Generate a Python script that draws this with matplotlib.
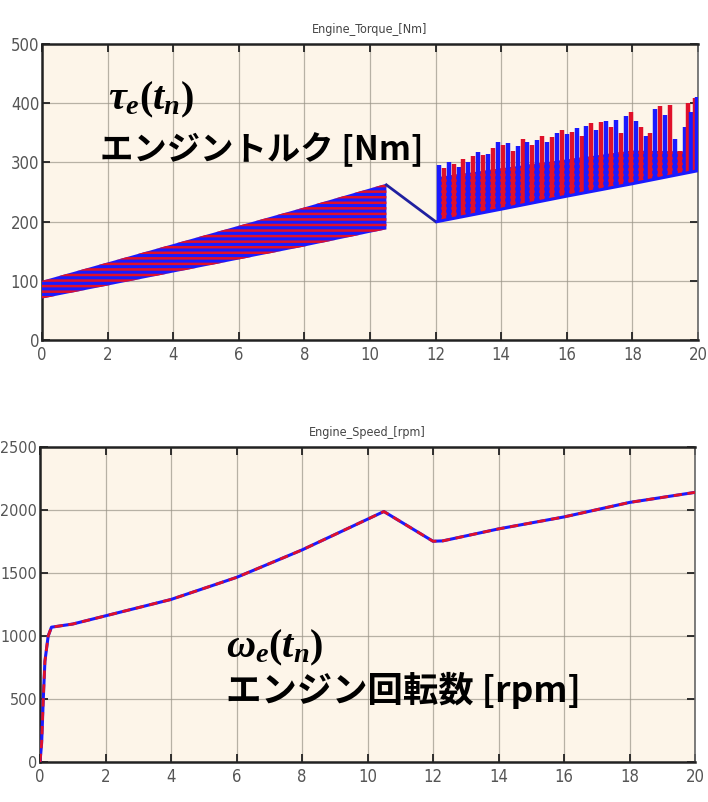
import matplotlib
matplotlib.use("Agg")
import matplotlib.pyplot as plt
import numpy as np

# ---------------- data ----------------
# Engine torque: dense oscillating band 0-10.5 s (envelope)
band_t = [0.0, 2.0, 4.0, 6.0, 8.0, 10.5]
band_low = [70, 92, 114, 136, 158, 187]
band_high = [100, 131, 162, 193, 224, 264]
# transition segment
trans_t = [10.5, 12.0]
trans_v = [262, 200]
# after 12 s: lower envelope, dense top, and spikes
post_t = [12.05, 14.0, 16.0, 18.0, 20.0]
post_low = [200, 221, 243, 264, 286]
post_dense = [275, 290, 305, 320, 318]
spike_t = [12.1, 12.25, 12.4, 12.55, 12.7, 12.85, 13.0, 13.15, 13.3, 13.45, 13.6,
           13.75, 13.9, 14.05, 14.2, 14.35, 14.5, 14.65, 14.8, 14.95, 15.1, 15.25,
           15.4, 15.55, 15.7, 15.85, 16.0, 16.15, 16.3, 16.45, 16.6, 16.75, 16.9,
           17.05, 17.2, 17.35, 17.5, 17.65, 17.8, 17.95, 18.1, 18.25, 18.4, 18.55,
           18.7, 18.85, 19.0, 19.15, 19.3, 19.45, 19.6, 19.7, 19.8, 19.9, 19.97]
spike_v = [295, 290, 300, 298, 292, 305, 300, 310, 318, 312, 315,
           325, 335, 330, 332, 320, 328, 340, 335, 330, 338, 345,
           335, 343, 350, 355, 348, 352, 358, 345, 362, 366, 355,
           368, 370, 360, 372, 350, 378, 385, 370, 360, 345, 350,
           390, 395, 380, 397, 340, 320, 360, 400, 385, 408, 410]

# Engine speed
speed_t = [0.0, 0.05, 0.1, 0.15, 0.25, 0.35, 1.0, 2.0, 4.0, 6.0, 8.0, 10.5,
           12.0, 12.3, 14.0, 16.0, 18.0, 20.0]
speed_v = [0, 150, 500, 800, 1000, 1070, 1095, 1160, 1290, 1465, 1683, 1988,
           1752, 1755, 1850, 1945, 2060, 2140]

torque_title = "Engine_Torque_[Nm]"
speed_title = "Engine_Speed_[rpm]"
x_ticks = [0, 2, 4, 6, 8, 10, 12, 14, 16, 18, 20]
torque_ticks = [0, 100, 200, 300, 400, 500]
speed_ticks = [0, 500, 1000, 1500, 2000, 2500]

# ---------------- style ----------------
plt.rcParams['mathtext.fontset'] = 'custom'
plt.rcParams['mathtext.it'] = 'Liberation Serif:italic:bold'
plt.rcParams['mathtext.rm'] = 'Liberation Serif:bold'
plt.rcParams['hatch.linewidth'] = 1.8

CREAM = '#fdf5e9'
BLUE = '#1a1aff'
RED = '#e0102a'
TICKFONT = ['DejaVu Sans']
JP = ['Noto Sans CJK JP', 'DejaVu Sans']

fig = plt.figure(figsize=(7.08, 8.02), dpi=100)
ax1 = fig.add_axes([42/708, 1-340/802, 656/708, 296/802])
ax2 = fig.add_axes([40/708, 1-762/802, 655/708, 315/802])


def style(ax, yticks, title, ysize):
    ax.set_facecolor(CREAM)
    ax.set_xlim(0, 20)
    ax.set_ylim(yticks[0], yticks[-1])
    ax.set_xticks(x_ticks)
    ax.set_yticks(yticks)
    ax.grid(True, color='#9a9488', lw=0.9, alpha=0.7)
    ax.set_axisbelow(True)
    ax.tick_params(direction='in', length=6, width=1.3, colors='#222222',
                   top=True, right=True, labelcolor='#555555', labelsize=12, pad=4)
    ax.tick_params(axis='y', pad=2, labelsize=ysize)
    for lab in ax.get_xticklabels() + ax.get_yticklabels():
        lab.set_family(TICKFONT)
        lab.set_fontstretch('condensed')
    for s in ['left', 'bottom', 'top']:
        ax.spines[s].set_color('#222222')
        ax.spines[s].set_linewidth(1.8)
    ax.spines['right'].set_color('#666666')
    ax.spines['right'].set_linewidth(1.2)
    ax.set_title(title, fontsize=9, color='#444444', family=TICKFONT,
                 fontstretch='condensed', pad=8)


style(ax1, torque_ticks, torque_title, 12)
style(ax2, speed_ticks, speed_title, 11.5)

# torque band 0-10.5
ax1.fill_between(band_t, band_low, band_high, facecolor=BLUE, edgecolor=RED,
                 hatch='---', lw=0, zorder=3)
ax1.plot(trans_t, trans_v, color='#2020a0', lw=2, zorder=3)
# after 12 s
ax1.fill_between(post_t, post_low, post_dense, facecolor=BLUE, edgecolor=RED,
                 hatch='---', lw=0, zorder=3)
low_at_spike = np.interp(spike_t, post_t, post_low)
cols = [BLUE if i % 2 == 0 else RED for i in range(len(spike_t))]
ax1.vlines(spike_t, low_at_spike, spike_v, colors=cols, lw=3.2, zorder=3)
ax1.plot(post_t, post_low, color=BLUE, lw=2.2, zorder=4)

# speed
ax2.plot(speed_t, speed_v, color=BLUE, lw=2.2, zorder=3)
ax2.plot(speed_t, speed_v, color=RED, lw=2.0, ls=(0, (3, 2)), zorder=4)

# annotations
fig.text(108/708, 1-100/802, r'$\tau_e(t_n)$', fontsize=29, va='center', ha='left')
fig.text(100/708, 1-150/802, 'エンジントルク [Nm]', fontsize=24, fontweight='bold',
         family=JP, va='center', ha='left')
fig.text(226/708, 1-648/802, r'$\omega_e(t_n)$', fontsize=29, va='center', ha='left')
fig.text(226/708, 1-690/802, 'エンジン回転数 [rpm]', fontsize=25.5, fontweight='bold',
         family=JP, va='center', ha='left')

fig.savefig('out.png', dpi=100, facecolor='white')
